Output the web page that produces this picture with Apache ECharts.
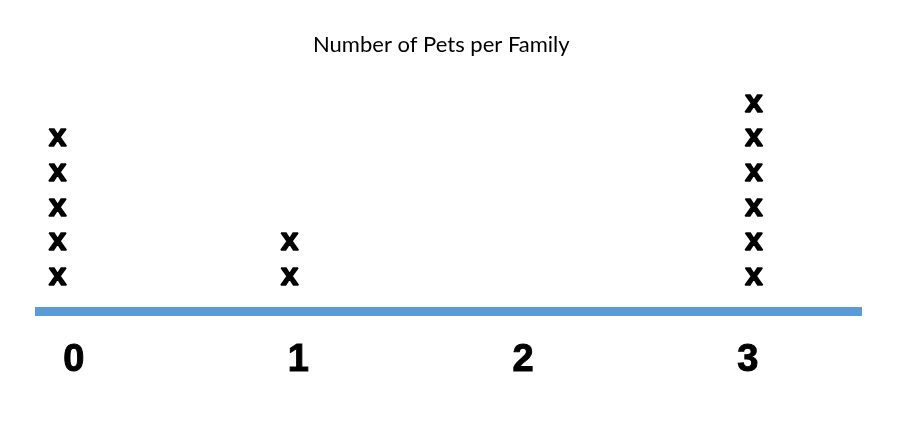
<!DOCTYPE html>
<html>
<head>
<meta charset="utf-8">
<script src="https://cdn.jsdelivr.net/npm/echarts@6/dist/echarts.min.js"></script>
<style>html,body{margin:0;padding:0;background:#fff}#c{width:914px;height:430px}</style>
</head>
<body>
<div id="c"></div>
<script>
const title = "Number of Pets per Family";
const categories = [0, 1, 2, 3];
const counts = [5, 2, 0, 6];
const tickLabels = ["0", "1", "2", "3"];

const points = [];
categories.forEach((c, i) => {
  for (let k = 1; k <= counts[i]; k++) points.push([c, k]);
});

const chart = echarts.init(document.getElementById('c'), null, {renderer: 'canvas'});
chart.setOption({
  animation: false,
  backgroundColor: '#ffffff',
  title: {
    text: title, left: 308, top: 29,
    textStyle: {fontFamily: 'Lato', fontSize: 22, fontWeight: 'normal', color: '#000'}
  },
  grid: {left: 35, right: 52, top: 73.5, bottom: 118.5},
  xAxis: [{
    type: 'value', min: -0.0974, max: 3.4658, position: 'bottom',
    axisLine: {show: true, onZero: false, lineStyle: {color: '#5b9bd5', width: 9, cap: 'butt'}},
    axisTick: {show: false},
    splitLine: {show: false},
    axisLabel: {show: false}
  }, {
    type: 'value', min: -0.1722, max: 3.5082, position: 'bottom',
    axisLine: {show: false},
    axisTick: {show: false},
    splitLine: {show: false},
    axisLabel: {
      customValues: categories,
      margin: 30, color: '#000', fontFamily: 'Liberation Sans', fontWeight: 'bold', fontSize: 38,
      textBorderColor: '#000', textBorderWidth: 1,
      formatter: v => tickLabels[categories.indexOf(Math.round(v))]
    }
  }],
  yAxis: {
    type: 'value', min: -0.026, max: 6.854, show: false
  },
  series: [{
    type: 'scatter',
    xAxisIndex: 0,
    data: points,
    symbolSize: 1,
    itemStyle: {color: 'rgba(0,0,0,0)', opacity: 1},
    label: {
      show: true, position: 'inside', formatter: 'x', opacity: 1,
      color: '#000', fontFamily: 'Liberation Sans', fontWeight: 'bold', fontSize: 32,
      textBorderColor: '#000', textBorderWidth: 1.5
    }
  }]
});
</script>
</body>
</html>
